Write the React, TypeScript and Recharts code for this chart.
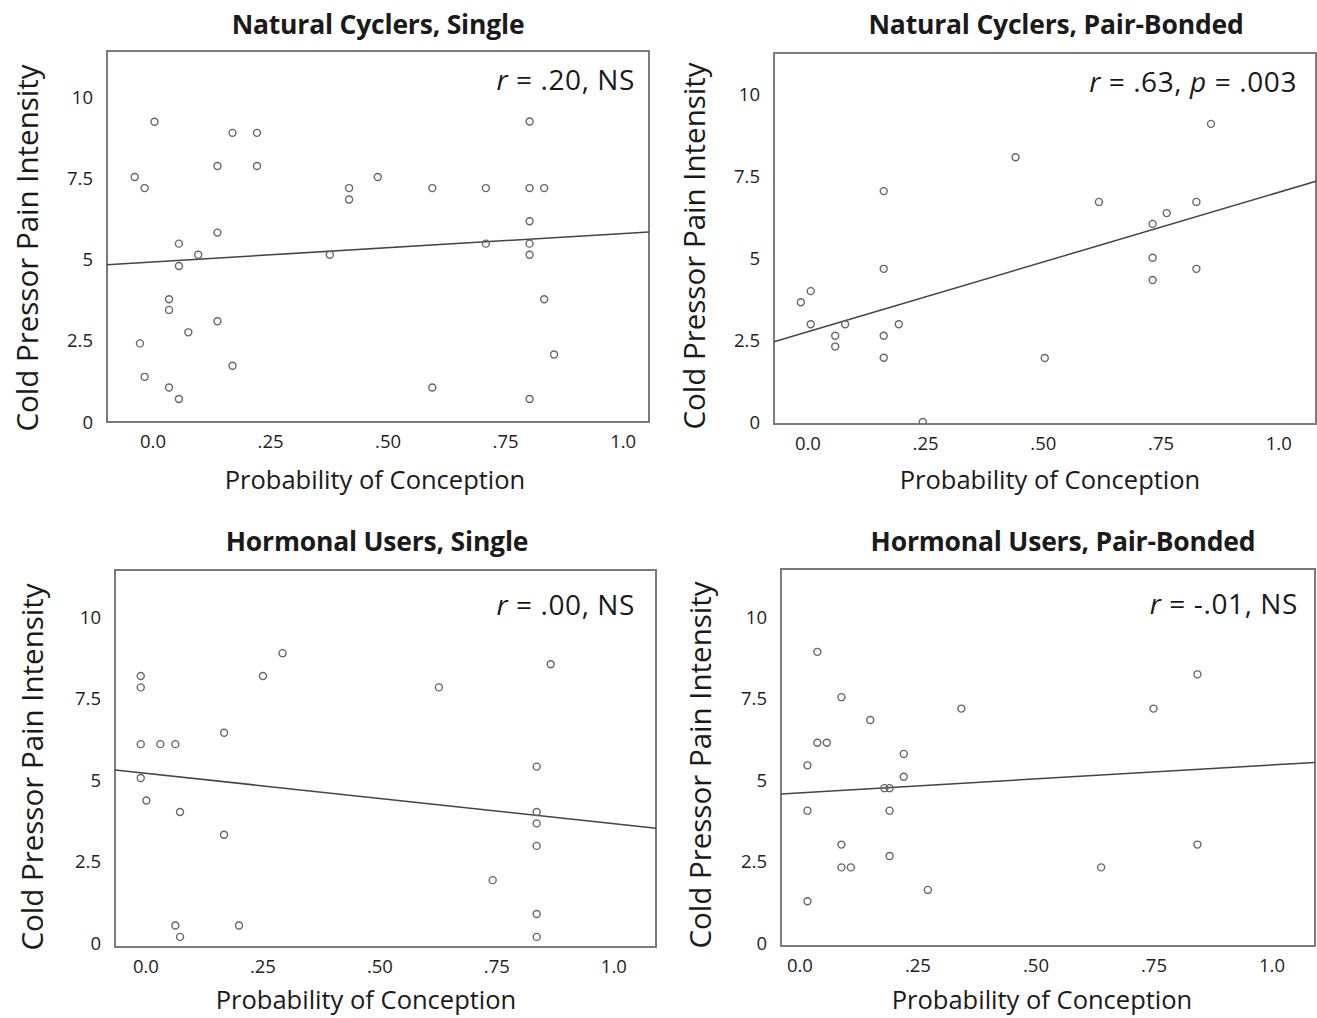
import { ScatterChart, Scatter, XAxis, YAxis, ReferenceLine, ReferenceArea } from 'recharts'

const FONT = '"Open Sans", Lato, sans-serif'

const xTicks = [0, 0.25, 0.5, 0.75, 1]
const xTickLabels = ['0.0', '.25', '.50', '.75', '1.0']
const yTicks = [0, 2.5, 5, 7.5, 10]
const yTickLabels = ['0', '2.5', '5', '7.5', '10']

// Natural cyclers, single
const ncSingle = [
  { x: 0.003, y: 9.24 }, { x: 0.169, y: 8.9 }, { x: 0.221, y: 8.9 }, { x: 0.137, y: 7.88 },
  { x: 0.221, y: 7.88 }, { x: -0.039, y: 7.54 }, { x: -0.018, y: 7.2 }, { x: 0.417, y: 7.2 },
  { x: 0.417, y: 6.85 }, { x: 0.478, y: 7.54 }, { x: 0.137, y: 5.83 }, { x: 0.055, y: 5.49 },
  { x: 0.096, y: 5.15 }, { x: 0.055, y: 4.8 }, { x: 0.376, y: 5.15 }, { x: 0.034, y: 3.78 },
  { x: 0.034, y: 3.45 }, { x: 0.137, y: 3.1 }, { x: 0.075, y: 2.76 }, { x: -0.028, y: 2.42 },
  { x: 0.169, y: 1.73 }, { x: -0.018, y: 1.39 }, { x: 0.034, y: 1.06 }, { x: 0.055, y: 0.71 },
  { x: 0.801, y: 9.25 }, { x: 0.594, y: 7.2 }, { x: 0.708, y: 7.2 }, { x: 0.801, y: 7.2 },
  { x: 0.832, y: 7.2 }, { x: 0.801, y: 6.18 }, { x: 0.708, y: 5.49 }, { x: 0.801, y: 5.49 },
  { x: 0.801, y: 5.15 }, { x: 0.832, y: 3.78 }, { x: 0.853, y: 2.08 }, { x: 0.594, y: 1.06 },
  { x: 0.801, y: 0.71 },
]
const ncSingleFit = [{ x: -0.098, y: 4.84 }, { x: 1.055, y: 5.85 }]

// Natural cyclers, pair-bonded
const ncPair = [
  { x: 0.441, y: 8.07 }, { x: 0.161, y: 7.04 }, { x: 0.161, y: 4.67 }, { x: 0.006, y: 3.99 },
  { x: -0.015, y: 3.65 }, { x: 0.006, y: 2.98 }, { x: 0.079, y: 2.98 }, { x: 0.193, y: 2.98 },
  { x: 0.058, y: 2.63 }, { x: 0.161, y: 2.63 }, { x: 0.058, y: 2.3 }, { x: 0.161, y: 1.96 },
  { x: 0.244, y: 0 }, { x: 0.856, y: 9.09 }, { x: 0.618, y: 6.71 }, { x: 0.825, y: 6.71 },
  { x: 0.762, y: 6.37 }, { x: 0.732, y: 6.04 }, { x: 0.732, y: 5.01 }, { x: 0.825, y: 4.67 },
  { x: 0.732, y: 4.33 }, { x: 0.503, y: 1.95 },
]
const ncPairFit = [{ x: -0.072, y: 2.45 }, { x: 1.079, y: 7.34 }]

// Hormonal users, single
const huSingle = [
  { x: 0.292, y: 8.89 }, { x: -0.011, y: 8.19 }, { x: 0.25, y: 8.19 }, { x: -0.011, y: 7.84 },
  { x: 0.167, y: 6.45 }, { x: -0.011, y: 6.1 }, { x: 0.031, y: 6.1 }, { x: 0.063, y: 6.1 },
  { x: -0.011, y: 5.06 }, { x: 0.001, y: 4.37 }, { x: 0.073, y: 4.02 }, { x: 0.167, y: 3.32 },
  { x: 0.063, y: 0.54 }, { x: 0.199, y: 0.54 }, { x: 0.073, y: 0.19 }, { x: 0.865, y: 8.55 },
  { x: 0.626, y: 7.84 }, { x: 0.835, y: 5.41 }, { x: 0.835, y: 4.02 }, { x: 0.835, y: 3.67 },
  { x: 0.835, y: 2.98 }, { x: 0.741, y: 1.93 }, { x: 0.835, y: 0.89 }, { x: 0.835, y: 0.19 },
]
const huSingleFit = [{ x: -0.066, y: 5.31 }, { x: 1.09, y: 3.52 }]

// Hormonal users, pair-bonded
const huPair = [
  { x: 0.037, y: 8.93 }, { x: 0.088, y: 7.54 }, { x: 0.342, y: 7.19 }, { x: 0.149, y: 6.84 },
  { x: 0.037, y: 6.14 }, { x: 0.057, y: 6.14 }, { x: 0.016, y: 5.45 }, { x: 0.22, y: 5.8 },
  { x: 0.22, y: 5.1 }, { x: 0.179, y: 4.75 }, { x: 0.19, y: 4.75 }, { x: 0.016, y: 4.06 },
  { x: 0.19, y: 4.06 }, { x: 0.088, y: 3.02 }, { x: 0.19, y: 2.67 }, { x: 0.088, y: 2.32 },
  { x: 0.108, y: 2.32 }, { x: 0.271, y: 1.63 }, { x: 0.016, y: 1.28 }, { x: 0.842, y: 8.24 },
  { x: 0.749, y: 7.19 }, { x: 0.842, y: 3.02 }, { x: 0.638, y: 2.32 },
]
const huPairFit = [{ x: -0.04, y: 4.57 }, { x: 1.091, y: 5.54 }]

const panels = [
  {
    title: 'Natural Cyclers, Single', pts: ncSingle, fit: ncSingleFit,
    stat: <><i>r</i> = .20, NS</>,
    box: [107, 51, 649, 422], xDomain: [-0.098, 1.055], yDomain: [0, 11.42],
    titleAt: [378, 24], yLabelAt: [27, 248], xLabelAt: [375, 480], statAt: [635, 79],
  },
  {
    title: 'Natural Cyclers, Pair-Bonded', pts: ncPair, fit: ncPairFit,
    stat: <><i>r</i> = .63, <i>p</i> = .003</>,
    box: [774, 53, 1316, 424], xDomain: [-0.072, 1.079], yDomain: [-0.06, 11.25],
    titleAt: [1056, 24], yLabelAt: [694, 246], xLabelAt: [1050, 480], statAt: [1297, 81],
  },
  {
    title: 'Hormonal Users, Single', pts: huSingle, fit: huSingleFit,
    stat: <><i>r</i> = .00, NS</>,
    box: [115, 570, 656, 947], xDomain: [-0.066, 1.09], yDomain: [-0.12, 11.44],
    titleAt: [377, 541], yLabelAt: [32, 767], xLabelAt: [366, 1000], statAt: [635, 604],
  },
  {
    title: 'Hormonal Users, Pair-Bonded', pts: huPair, fit: huPairFit,
    stat: <><i>r</i> = -.01, NS</>,
    box: [781, 569, 1315, 946], xDomain: [-0.04, 1.091], yDomain: [-0.09, 11.47],
    titleAt: [1063, 541], yLabelAt: [700, 765], xLabelAt: [1042, 1000], statAt: [1298, 603],
  },
]

const Ring = (props: any) => (
  <circle cx={props.cx} cy={props.cy} r={3.5} fill="none" stroke="#666" strokeWidth={1.4} />
)

const tickStyle = { fill: '#222', fontSize: 18.5, fontFamily: FONT }

function Panel({ p }: { p: any }) {
  const [x0, y0, x1, y1] = p.box
  const w = x1 - x0
  const h = y1 - y0
  const abs = (x: number, y: number, extra: any = {}) => ({
    position: 'absolute' as const, left: x, top: y, whiteSpace: 'nowrap' as const,
    lineHeight: 1, color: '#1a1a1a', fontFamily: FONT, ...extra,
  })
  return (
    <>
      <div style={abs(p.titleAt[0], p.titleAt[1], { transform: 'translate(-50%,-50%)', fontSize: 26.5, fontWeight: 700, letterSpacing: -0.2 })}>
        {p.title}
      </div>
      <div style={abs(p.yLabelAt[0], p.yLabelAt[1], { transform: 'translate(-50%,-50%) rotate(-90deg)', fontSize: 29.5 })}>
        Cold Pressor Pain Intensity
      </div>
      <div style={abs(p.xLabelAt[0], p.xLabelAt[1], { transform: 'translate(-50%,-50%)', fontSize: 25.5 })}>
        Probability of Conception
      </div>
      <div style={{ position: 'absolute', left: x0 - 60, top: y0 - 2 }}>
        <ScatterChart width={w + 64} height={h + 42} margin={{ top: 2, right: 4, bottom: 0, left: 0 }}>
          <XAxis
            type="number" dataKey="x" domain={p.xDomain} ticks={xTicks} allowDataOverflow
            height={40} tickSize={6} tickMargin={7} axisLine={false} tickLine={false}
            tick={tickStyle} tickFormatter={(v: number) => xTickLabels[xTicks.indexOf(v)]}
          />
          <YAxis
            type="number" dataKey="y" domain={p.yDomain} ticks={yTicks} allowDataOverflow
            width={60} tickSize={6} tickMargin={8} axisLine={false} tickLine={false}
            tick={tickStyle} tickFormatter={(v: number) => yTickLabels[yTicks.indexOf(v)]}
          />
          <ReferenceArea
            x1={p.xDomain[0]} x2={p.xDomain[1]} y1={p.yDomain[0]} y2={p.yDomain[1]}
            fill="none" stroke="#7b7b7b" strokeWidth={2} ifOverflow="visible"
          />
          <ReferenceLine segment={p.fit} stroke="#444" strokeWidth={1.5} ifOverflow="visible" />
          <Scatter data={p.pts} isAnimationActive={false} shape={Ring} />
        </ScatterChart>
      </div>
      <div style={abs(0, p.statAt[1], { left: 'auto', right: 1317 - p.statAt[0], transform: 'translateY(-50%)', fontSize: 28, letterSpacing: 0.6 })}>
        {p.stat}
      </div>
    </>
  )
}

export default function App() {
  return (
    <div style={{ position: 'absolute', left: 0, top: 0, width: 1317, height: 1018, background: '#fff', overflow: 'hidden' }}>
      {panels.map((p) => <Panel key={p.title} p={p} />)}
    </div>
  )
}
